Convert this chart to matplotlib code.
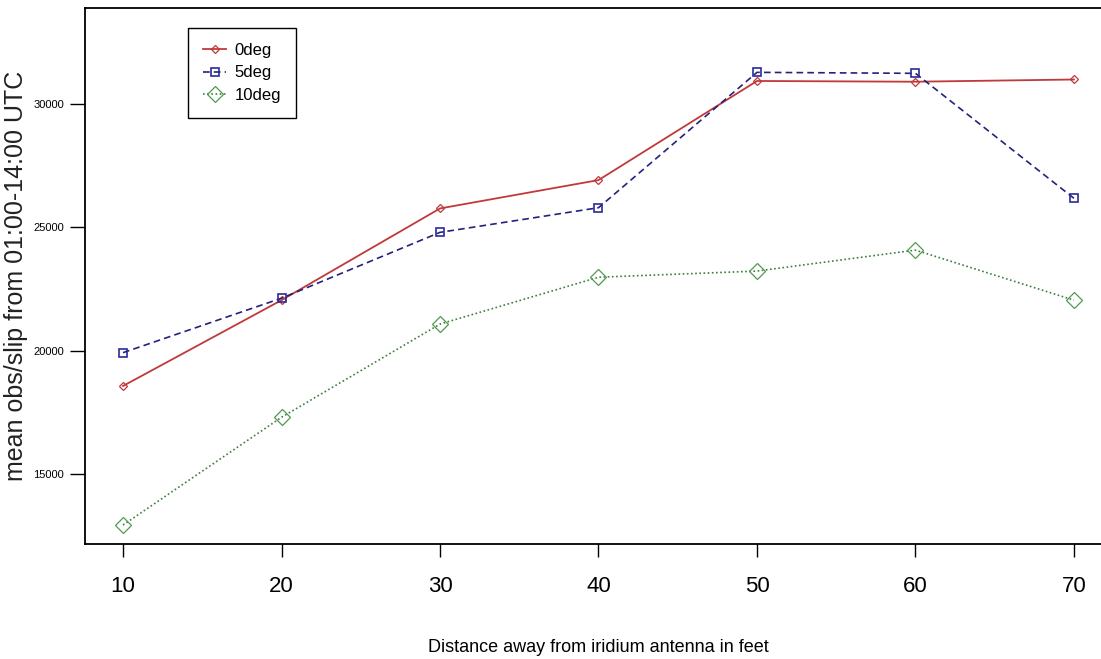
import matplotlib
matplotlib.use('Agg')
import matplotlib.pyplot as plt

# distance (feet) and mean obs/slip per elevation mask
distance = [10, 20, 30, 40, 50, 60, 70]
deg0 = [18570, 22050, 25770, 26920, 30940, 30910, 31000]
deg5 = [19920, 22130, 24800, 25800, 31290, 31250, 26180]
deg10 = [12930, 17300, 21080, 22980, 23230, 24080, 22050]
labels = ['0deg', '5deg', '10deg']
yticks = [15000, 20000, 25000, 30000]

FONT = 'Liberation Sans'

fig = plt.figure(figsize=(11.01, 6.59), dpi=100)
ax = fig.add_axes([85 / 1101, 115 / 659, 1027 / 1101, 536 / 659])

ax.plot(distance, deg0, color='#c0393b', lw=1.3, ls='-',
        marker='D', ms=4.5, mfc='none', mec='#c0393b', mew=0.9, label=labels[0])
ax.plot(distance, deg5, color='#23237a', lw=1.2, ls=(0, (4, 2.5)),
        marker='s', ms=6, mfc='none', mec='#2a2a9a', mew=1.2, label=labels[1])
ax.plot(distance, deg10, color='#3f7f3f', lw=1.2, ls=(0, (1, 1.5)),
        marker='D', ms=8, mfc='none', mec='#4f9a4f', mew=0.9, label=labels[2])

ax.set_xlim(7.6, 72.4)
ax.set_ylim(12160, 33900)
ax.set_xticks(distance)
ax.set_yticks(yticks)
ax.tick_params(axis='x', length=9, width=1, labelsize=16, pad=14)
ax.tick_params(axis='y', length=11, width=1, labelsize=8, pad=4)
for t in ax.get_xticklabels() + ax.get_yticklabels():
    t.set_fontfamily(FONT)
for s in ax.spines.values():
    s.set_linewidth(1.3)

ax.set_xlabel('Distance away from iridium antenna in feet', fontsize=13,
              family=FONT, labelpad=30)
ax.set_ylabel('mean obs/slip from 01:00-14:00 UTC', fontsize=18,
              family=FONT, labelpad=4, color='#222222')

leg = ax.legend(loc='upper left', bbox_to_anchor=(0.1003, 0.9627), borderaxespad=0,
                fancybox=False, framealpha=1, edgecolor='black',
                prop={'family': FONT, 'size': 12}, handlelength=1.4,
                handletextpad=0.5, labelspacing=0.45, borderpad=0.9)
leg.get_frame().set_linewidth(1)

fig.savefig('out.png', dpi=100)
